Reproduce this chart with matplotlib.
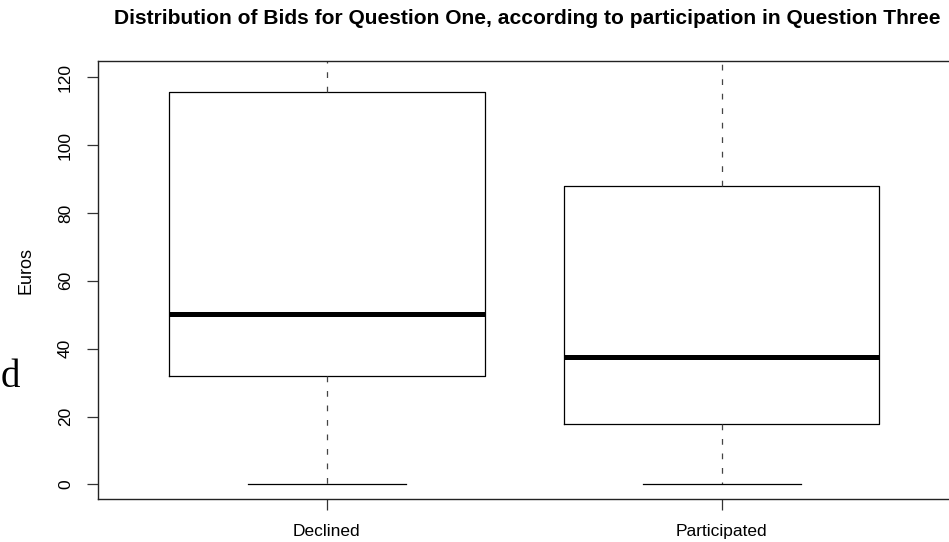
import matplotlib
matplotlib.use("Agg")
import matplotlib.pyplot as plt

# Summary statistics per group (Euros)
groups = ["Declined", "Participated"]
lower_whisker = [0, 0]
q1 = [31.8, 17.8]
median = [50.1, 37.4]
q3 = [115.7, 87.9]
upper_whisker = [200, 200]   # reaches beyond the plotted range
y_ticks = [0, 20, 40, 60, 80, 100, 120]

plt.rcParams["font.family"] = ["Liberation Sans", "DejaVu Sans"]

W, H = 949, 542
fig = plt.figure(figsize=(W / 100, H / 100), dpi=100)
ax = fig.add_axes([98 / W, (H - 499.3) / H, (950.5 - 98) / W, (499.3 - 61) / H])

stats = []
for name, lo, a, m, b, hi in zip(groups, lower_whisker, q1, median, q3, upper_whisker):
    stats.append(dict(label=name, whislo=lo, q1=a, med=m, q3=b, whishi=hi, fliers=[]))

ax.bxp(stats, positions=[1, 2], widths=0.8, showfliers=False,
       boxprops=dict(color="black", linewidth=0.9),
       medianprops=dict(color="black", linewidth=3.6, solid_capstyle="butt"),
       whiskerprops=dict(color="#444444", linewidth=0.9, linestyle=(0, (4.6, 7.0))),
       capprops=dict(color="black", linewidth=0.9),
       capwidths=0.4)

ax.set_xlim(0.42, 2.58)
ax.set_ylim(-4.4, 124.8)
ax.set_yticks(y_ticks)
ax.set_yticklabels([str(t) for t in y_ticks], rotation=90, va="center")
ax.set_xticks([1, 2])
ax.set_xticklabels(groups)
ax.tick_params(axis="both", labelsize=12.5, length=8, width=0.9, color="#333333")
ax.tick_params(axis="y", pad=10)
ax.tick_params(axis="x", pad=10)
for s in ax.spines.values():
    s.set_linewidth(1.0)
    s.set_color("#222222")

fig.text(26 / W, 1 - 270 / H, "Euros", rotation=90, ha="center", va="center", fontsize=13)
fig.text(527 / W, 1 - 18 / H, "Distribution of Bids for Question One, according to participation in Question Three",
         ha="center", va="center", fontsize=15.1, fontweight="bold")
fig.text(1 / W, 1 - 386.7 / H, "d", ha="left", va="baseline", fontsize=28,
         family=["Liberation Serif", "DejaVu Serif"])

fig.savefig("out.png", dpi=100)
